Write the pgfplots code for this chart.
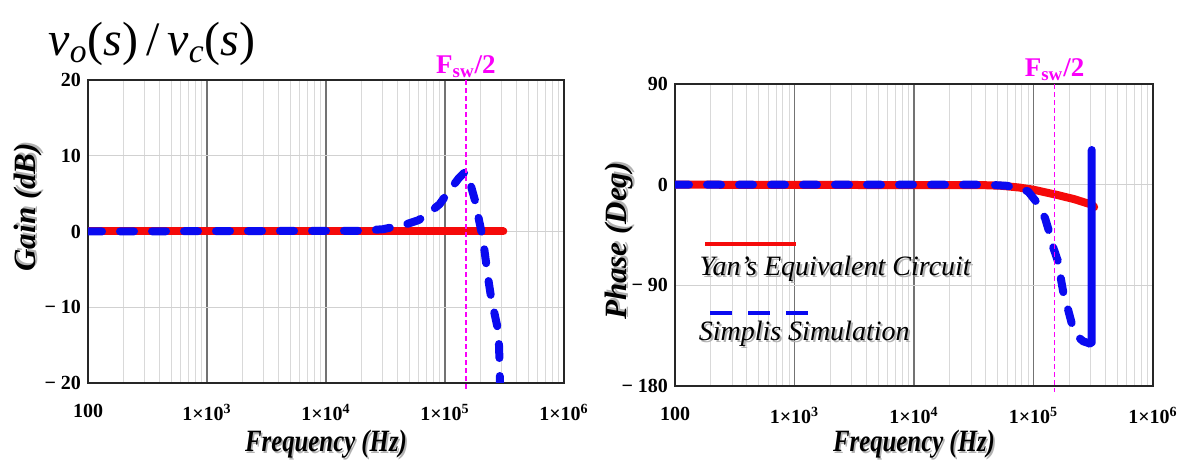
\documentclass[border=0pt]{standalone}
\usepackage{fontspec}
\setmainfont{Liberation Serif}
\usepackage{graphicx}
\usepackage{pgfplots}
\pgfplotsset{compat=1.18}

\definecolor{eqred}{RGB}{245,10,10}
\definecolor{simblue}{RGB}{10,10,240}
\definecolor{fswmag}{RGB}{250,0,250}

% text with a soft grey drop shadow
\newcommand\shadowed[1]{\makebox[0pt][l]{\raisebox{-1bp}{\hspace{1bp}\textcolor{black!30}{#1}}}#1}

\tikzset{
  eqcircuit/.style={eqred, line width=4bp, line cap=round, line join=round},
  simplis/.style={simblue, line width=4bp, line cap=round, line join=round,
    dash pattern=on 7bp off 9bp},
  fswline/.style={fswmag, line width=0.8bp, dash pattern=on 2.5bp off 1.5bp},
  fswtext/.style={fswmag, anchor=base, font=\fontsize{13.5bp}{15bp}\selectfont\bfseries},
  legtext/.style={anchor=base west, font=\fontsize{14bp}{16bp}\selectfont\itshape},
}

\begin{document}
\begin{tikzpicture}
\path[use as bounding box] (0,0) rectangle (592bp,-230.5bp);

% transfer function name
\node[font=\fontsize{24bp}{28bp}\selectfont] at (76bp,-22bp)
  {\textit{v}\textsubscript{\textit{o}}(\textit{s})\,/\,\textit{v}\textsubscript{\textit{c}}(\textit{s})};

% ---------------- gain ----------------
\begin{axis}[
  scale only axis,
  at={(44bp,-40bp)}, anchor=north west,
  width=238bp, height=151.5bp,
  xmode=log, xmin=100, xmax=1000000,
  ymin=-20, ymax=20,
  axis line style={line width=1bp, black!85},
  grid=both,
  major x grid style={black!55, line width=0.6bp},
  minor x grid style={black!15, line width=0.5bp},
  major y grid style={black!18, line width=0.5bp},
  major tick length=0pt, minor tick length=0pt,
  xtick={100,1000,10000,100000,1000000},
  xticklabels={100,{1×10\textsuperscript{3}},{1×10\textsuperscript{4}},{1×10\textsuperscript{5}},{1×10\textsuperscript{6}}},
  ytick={-20,-10,0,10,20},
  yticklabels={− 20,− 10,0,10,20},
  ticklabel style={font=\fontsize{10bp}{12bp}\selectfont\bfseries},
  xticklabel style={yshift=-7bp},
  label style={font=\fontsize{15.5bp}{18bp}\selectfont\bfseries\itshape},
  xlabel={\scalebox{0.8}[1]{\shadowed{Frequency (Hz)}}},
  xlabel style={at={(axis description cs:0.5,-0.205)}, anchor=center},
  ylabel={\shadowed{Gain (dB)}},
  ylabel style={at={(axis description cs:-0.124,0.58)}, anchor=center},
  clip mode=individual,
]
\addplot[eqcircuit] coordinates {(100,0) (309000,0)};
\addplot[simplis] coordinates {
  (100,0) (20000,0.1) (30000,0.3) (46000,0.9) (60000,1.5) (74000,2.5)
  (90000,3.6) (110000,5.5) (130000,7.0) (148000,7.9) (160000,6.8)
  (178000,4.2) (209000,-1.1) (229000,-5.9) (245000,-8.9) (282000,-13.3)
  (288000,-17.8) (290000,-21)};
\draw[fswline] (axis cs:150000,20) -- ([yshift=-3bp]axis cs:150000,-20);
\node[fswtext, yshift=3.5bp] at (axis cs:150000,20) {F\textsubscript{sw}/2};
\end{axis}

% ---------------- phase ----------------
\begin{axis}[
  scale only axis,
  at={(337.5bp,-42bp)}, anchor=north west,
  width=239bp, height=151bp,
  xmode=log, xmin=100, xmax=1000000,
  ymin=-180, ymax=90,
  axis line style={line width=1bp, black!85},
  grid=both,
  major x grid style={black!55, line width=0.6bp},
  minor x grid style={black!15, line width=0.5bp},
  major y grid style={black!18, line width=0.5bp},
  major tick length=0pt, minor tick length=0pt,
  xtick={100,1000,10000,100000,1000000},
  xticklabels={100,{1×10\textsuperscript{3}},{1×10\textsuperscript{4}},{1×10\textsuperscript{5}},{1×10\textsuperscript{6}}},
  ytick={-180,-90,0,90},
  yticklabels={− 180,− 90,0,90},
  ticklabel style={font=\fontsize{10bp}{12bp}\selectfont\bfseries},
  xticklabel style={yshift=-7bp},
  label style={font=\fontsize{15.5bp}{18bp}\selectfont\bfseries\itshape},
  xlabel={\scalebox{0.8}[1]{\shadowed{Frequency (Hz)}}},
  xlabel style={at={(axis description cs:0.5,-0.195)}, anchor=center},
  ylabel={\shadowed{Phase (Deg)}},
  ylabel style={at={(axis description cs:-0.115,0.48)}, anchor=center},
  clip mode=individual,
]
\addplot[eqcircuit] coordinates {
  (100,0) (40000,-0.5) (54000,-1) (75000,-2.5) (100000,-4.5)
  (155000,-9) (220000,-13) (309000,-18) (322000,-20)};
\addplot[simplis] coordinates {
  (100,0) (40000,0) (60000,-1) (72000,-3) (90000,-6) (105000,-15)
  (112000,-20) (125000,-30) (135000,-42) (145000,-55) (162000,-70)
  (170000,-85) (178000,-97) (195000,-112) (210000,-125) (235000,-136)
  (260000,-140) (295000,-142)};
\addplot[simblue, line width=4bp, line cap=round, line join=round] coordinates {
  (295000,-142) (307000,-141) (307000,31)};
\draw[fswline] (axis cs:150000,90) -- ([yshift=-3bp]axis cs:150000,-180);
\node[fswtext, yshift=4bp] at (axis cs:150000,90) {F\textsubscript{sw}/2};

% legend
\draw[eqred, line width=2bp] (axis cs:179,-53) -- (axis cs:1023,-53);
\node[legtext] at (axis cs:140,-81) {\shadowed{Yan’s Equivalent Circuit}};
\draw[simblue, line width=2bp, dash pattern=on 11bp off 8bp] (axis cs:197,-115) -- (axis cs:1312,-115);
\node[legtext] at (axis cs:138,-139) {\shadowed{Simplis Simulation}};
\end{axis}
\end{tikzpicture}
\end{document}
